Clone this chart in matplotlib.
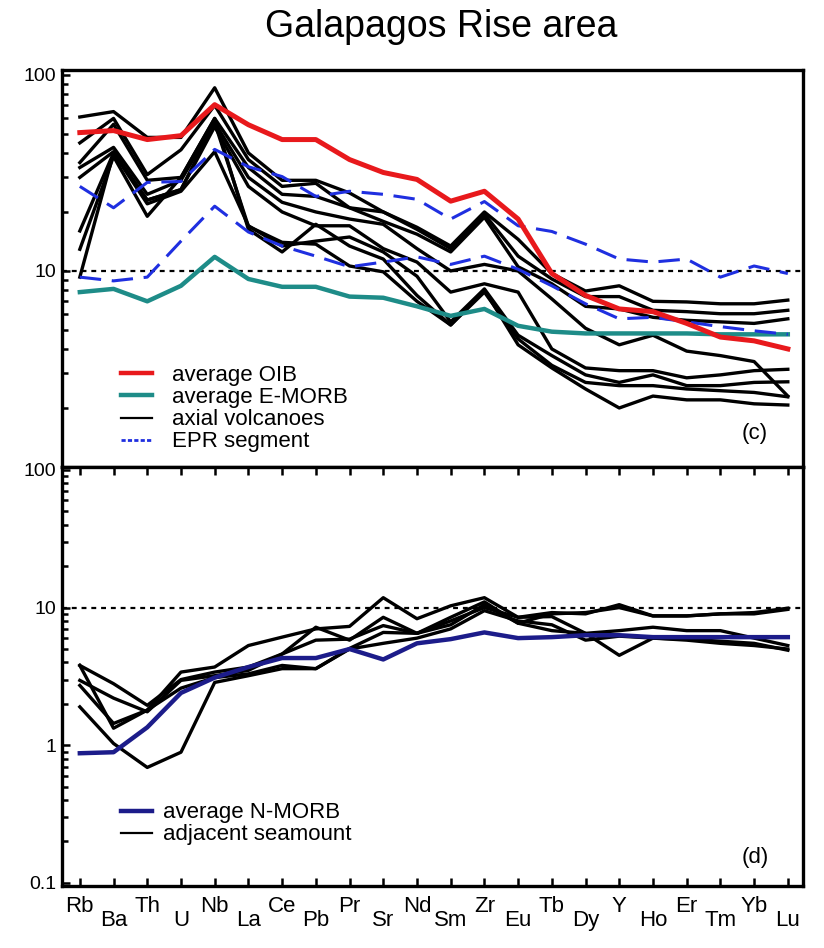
import numpy as np
import matplotlib.pyplot as plt
from matplotlib.lines import Line2D
from matplotlib.ticker import LogLocator, NullFormatter, FixedLocator, FixedFormatter
from matplotlib.transforms import blended_transform_factory

plt.rcParams['font.family'] = ['Liberation Sans', 'DejaVu Sans']

elements = ['Rb', 'Ba', 'Th', 'U', 'Nb', 'La', 'Ce', 'Pb', 'Pr', 'Sr', 'Nd',
            'Sm', 'Zr', 'Eu', 'Tb', 'Dy', 'Y', 'Ho', 'Er', 'Tm', 'Yb', 'Lu']

# panel (c)
avg_oib = [50.8, 52, 46.8, 49, 70.5, 55.7, 46.8, 46.8, 37, 31.8, 29.3,
           22.7, 25.5, 18.4, 9.7, 7.5, 6.4, 6.2, 5.4, 4.6, 4.4, 4.0]
avg_emorb = [7.8, 8.1, 7.0, 8.4, 11.8, 9.1, 8.3, 8.3, 7.4, 7.3, 6.6,
             5.9, 6.4, 5.25, 4.9, 4.8, 4.8, 4.8, 4.8, 4.75, 4.75, 4.75]
epr_upper = [27, 21, 28.3, 28.6, 41.7, 34, 30.3, 24, 25.5, 24.6, 23.2,
             18.4, 22.6, 17, 15.9, 13.7, 11.5, 11.1, 11.5, 9.3, 10.6, 9.7]
epr_lower = [9.3, 8.9, 9.3, 14.2, 21.4, 15.8, 13.4, 11.9, 10.5, 11.1, 11.8,
             10.8, 11.9, 10.2, 8.4, 6.8, 5.7, 5.8, 5.5, 5.2, 4.95, 4.75]
axial_volcanoes = [
    [61, 65, 48, 48, 86, 40, 29, 29, 25, 20, 16.7, 13.4, 20, 14.5, 9.7, 7.9, 8.4, 7.0, 6.95, 6.8, 6.8, 7.1],
    [45, 60, 31, 41.5, 70, 37, 27, 28, 21, 20, 16.3, 13, 19.5, 11.9, 9.1, 7.4, 7.4, 6.3, 6.2, 6.05, 6.05, 6.3],
    [35.7, 56, 29, 30, 60, 33.7, 24.6, 24, 21, 17.9, 15.4, 12.5, 18.8, 10.5, 8.6, 6.6, 6.4, 5.8, 5.6, 5.5, 5.4, 5.7],
    [33.7, 42.7, 24.6, 29, 57, 30, 22.4, 20, 18.4, 17.3, 13, 10, 10.8, 10, 7.2, 5.1, 4.2, 4.7, 3.9, 3.7, 3.45, 2.3],
    [30, 40.6, 23, 26, 54.5, 27, 20, 17, 17, 13, 11.1, 7.8, 8.6, 7.8, 4.0, 3.2, 3.1, 3.1, 2.85, 2.95, 3.1, 3.15],
    [16, 40, 22, 25.5, 40.6, 17, 13.4, 14.2, 14.9, 12.5, 9.4, 5.5, 8.1, 4.7, 3.7, 2.95, 2.7, 2.95, 2.6, 2.6, 2.7, 2.72],
    [12.9, 38.4, 19, 30, 60, 16.3, 12.5, 17.3, 13.4, 11.5, 7.5, 5.3, 7.8, 4.5, 3.3, 2.7, 2.6, 2.6, 2.5, 2.45, 2.4, 2.28],
    [9.3, 40, 23, 26, 57, 16.9, 14, 13.7, 10.6, 9.9, 7.0, 5.3, 8.0, 4.2, 3.2, 2.5, 2.0, 2.3, 2.2, 2.2, 2.1, 2.07],
]

# panel (d)
avg_nmorb = [0.875, 0.89, 1.35, 2.4, 3.1, 3.7, 4.3, 4.3, 5.0, 4.2, 5.5,
             5.9, 6.6, 6.0, 6.1, 6.3, 6.3, 6.1, 6.1, 6.1, 6.1, 6.1]
adjacent_seamounts = [
    [3.8, 1.33, 1.8, 3.4, 3.7, 5.3, 6.1, 7.0, 7.3, 11.8, 8.3, 10.3, 11.8, 8.5, 9.2, 9.0, 10.5, 8.7, 8.7, 9.0, 9.0, 9.7],
    [3.8, 2.8, 1.95, 3.0, 3.4, 3.7, 4.6, 7.2, 5.8, 8.5, 6.5, 8.5, 11.0, 7.7, 9.0, 9.2, 10.0, 8.7, 8.7, 9.0, 9.2, 9.9],
    [2.96, 2.2, 1.75, 2.96, 3.2, 3.5, 4.6, 5.8, 5.9, 7.4, 6.5, 8.0, 10.0, 8.5, 8.6, 6.5, 4.5, 6.0, 5.9, 5.7, 5.5, 4.9],
    [2.72, 1.44, 1.8, 2.6, 3.1, 3.3, 3.8, 3.6, 5.05, 6.6, 6.5, 7.5, 10.5, 7.7, 6.8, 6.5, 6.8, 7.2, 6.8, 6.8, 6.0, 5.3],
    [1.9, 1.03, 0.69, 0.89, 2.86, 3.2, 3.6, 3.6, 5.0, 5.5, 6.0, 7.0, 9.5, 8.0, 7.5, 5.8, 6.2, 6.0, 5.8, 5.5, 5.3, 5.0],
]

red = '#e8191c'
teal = '#1e8c88'
blue = '#1f2fe0'
navy = '#1c1c8a'

x = np.arange(len(elements))

fig = plt.figure(figsize=(8.24, 9.48), dpi=100)
ax1 = fig.add_axes([0.0752, 0.5074, 0.8993, 0.4188])
ax2 = fig.add_axes([0.0752, 0.0654, 0.8993, 0.4420])

for ax in (ax1, ax2):
    ax.set_yscale('log')
    ax.set_xlim(-0.53, 21.45)
    ax.axhline(10, color='black', lw=1.6, ls=(0, (2.2, 2.2)), zorder=1)
    for s in ax.spines.values():
        s.set_linewidth(2.4)
    ax.yaxis.set_minor_locator(LogLocator(base=10, subs=np.arange(2, 10)))
    ax.yaxis.set_minor_formatter(NullFormatter())
    ax.tick_params(axis='y', which='major', direction='in', length=6, width=1.8, labelsize=14, pad=4)
    ax.tick_params(axis='y', which='minor', direction='in', length=4, width=1.8)

# top panel
for vals in axial_volcanoes:
    ax1.plot(x, vals, color='black', lw=2.4, zorder=2)
ax1.plot(x, avg_emorb, color=teal, lw=3.2, zorder=3)
ax1.plot(x, epr_upper, color=blue, lw=2.2, ls=(0, (7, 3.5)), zorder=4)
ax1.plot(x, epr_lower, color=blue, lw=2.2, ls=(0, (7, 3.5)), zorder=4)
ax1.plot(x, avg_oib, color=red, lw=3.6, zorder=5)
ax1.set_ylim(1.0, 106)
ax1.yaxis.set_major_locator(FixedLocator([10, 100]))
ax1.yaxis.set_major_formatter(FixedFormatter(['10', '100']))
ax1.set_xticks([])

handles1 = [Line2D([], [], color=red, lw=3.2),
            Line2D([], [], color=teal, lw=3.2),
            Line2D([], [], color='black', lw=1.6),
            Line2D([], [], color=blue, lw=2.0, ls=(0, (1.5, 0.8)))]
ax1.legend(handles1, ['average OIB', 'average E-MORB', 'axial volcanoes', 'EPR segment'],
           loc='upper left', bbox_to_anchor=(0.068, 0.279), frameon=False,
           fontsize=16, handlelength=1.4, handletextpad=0.9, labelspacing=0.05,
           borderaxespad=0)
ax1.text(0.935, 0.085, '(c)', transform=ax1.transAxes, fontsize=16, ha='center', va='center')

# bottom panel
for vals in adjacent_seamounts:
    ax2.plot(x, vals, color='black', lw=2.4, zorder=2)
ax2.plot(x, avg_nmorb, color=navy, lw=3.2, zorder=3)
ax2.set_ylim(0.095, 105)
ax2.yaxis.set_major_locator(FixedLocator([0.1, 1, 10, 100]))
ax2.yaxis.set_major_formatter(FixedFormatter(['0.1', '1', '10', '100']))
ax2.set_xticks(x)
ax2.set_xticklabels([])
ax2.tick_params(axis='x', direction='in', length=6, width=1.8, top=True, bottom=True)

handles2 = [Line2D([], [], color=navy, lw=3.2),
            Line2D([], [], color='black', lw=1.6)]
ax2.legend(handles2, ['average N-MORB', 'adjacent seamount'],
           loc='upper left', bbox_to_anchor=(0.068, 0.221), frameon=False,
           fontsize=16, handlelength=1.4, handletextpad=0.5, labelspacing=0.05,
           borderaxespad=0)
ax2.text(0.935, 0.067, '(d)', transform=ax2.transAxes, fontsize=16, ha='center', va='center')

trans = blended_transform_factory(ax2.transData, ax2.transAxes)
for i, name in enumerate(elements):
    y = -0.024 if i % 2 == 0 else -0.057
    ax2.text(i, y, name, transform=trans, ha='center', va='top', fontsize=16)

fig.text(0.535, 0.972, 'Galapagos Rise area', ha='center', va='center', fontsize=27)

fig.savefig('out.png', dpi=100)
